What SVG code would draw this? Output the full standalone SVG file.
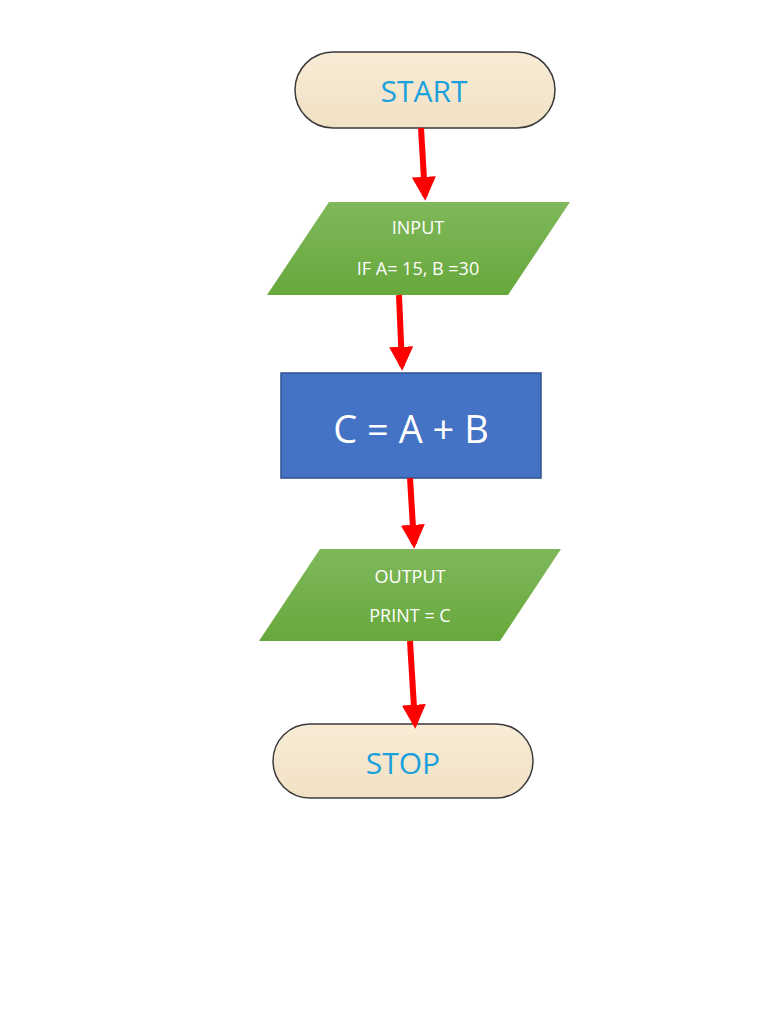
<svg xmlns="http://www.w3.org/2000/svg" width="768" height="1024" viewBox="0 0 768 1024">
<style>
.t{font-family:"Open Sans","Liberation Sans",sans-serif;text-anchor:middle;dominant-baseline:central}
.pill{fill:url(#beige);stroke:#3a3a3a;stroke-width:1.5}
.para{fill:url(#green)}
.w{fill:#fff}
.b{fill:#1aa0dc}
.c{stroke:#f00;stroke-width:6;fill:none;marker-end:url(#ah)}
</style>
<defs>
<linearGradient id="beige" x1="0" y1="0" x2="0" y2="1"><stop offset="0" stop-color="#f8ecd6"/><stop offset="1" stop-color="#f1e1c4"/></linearGradient>
<linearGradient id="green" x1="0" y1="0" x2="0" y2="1"><stop offset="0" stop-color="#7fb85a"/><stop offset="1" stop-color="#67a83c"/></linearGradient>
<marker id="ah" viewBox="0 0 10 10" refX="8" refY="5" markerWidth="4" markerHeight="4" orient="auto"><path d="M0,0L10,5L0,10z" fill="#f00"/></marker>
</defs>
<g id="start"><rect class="pill" x="295" y="52" width="260" height="76" rx="38"/><text class="t b" x="424" y="90" font-size="30">START</text></g>
<g id="input"><polygon class="para" points="329,202 570,202 508,295 267,295"/><text class="t w" x="418" y="227" font-size="18">INPUT</text><text class="t w" x="418" y="268" font-size="18">IF A= 15, B =30</text></g>
<g id="process"><rect x="281" y="373" width="260" height="105" fill="#4472c4" stroke="#2f528f" stroke-width="1.5"/><text class="t w" x="411" y="428" font-size="38">C = A + B</text></g>
<g id="output"><polygon class="para" points="320,549 561,549 500,641 259,641"/><text class="t w" x="410" y="576" font-size="18">OUTPUT</text><text class="t w" x="410" y="615" font-size="18">PRINT = C</text></g>
<g id="stop"><rect class="pill" x="273" y="724" width="260" height="74" rx="37"/><text class="t b" x="403" y="762" font-size="30">STOP</text></g>
<g id="connectors">
<line class="c" x1="421" y1="128" x2="425" y2="196"/>
<line class="c" x1="399" y1="295" x2="402" y2="366"/>
<line class="c" x1="410" y1="478" x2="414" y2="544"/>
<line class="c" x1="410" y1="641" x2="415" y2="724"/>
</g>
</svg>
